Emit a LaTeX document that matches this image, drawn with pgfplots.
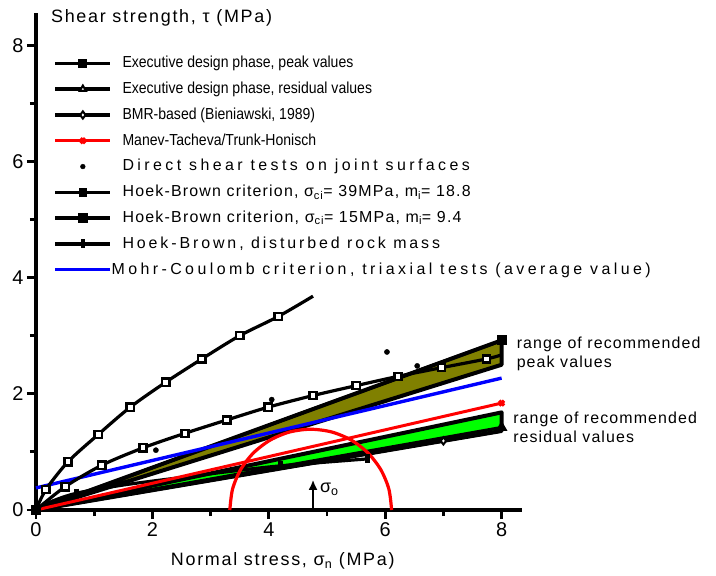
\documentclass[border=0pt]{standalone}
\usepackage{pgfplots}
\pgfplotsset{compat=1.18}
\usepackage{fontspec}
\setmainfont{Liberation Sans}
\newfontfamily\legfont[FakeStretch=0.88]{Liberation Sans}
\usetikzlibrary{arrows.meta}
\definecolor{bandolive}{RGB}{128,128,0}
\definecolor{bandgreen}{RGB}{0,255,0}
\newcommand{\ls}[2]{{\addfontfeature{LetterSpace=#1}#2}}
\begin{document}
\begin{tikzpicture}
\path[use as bounding box] (-36bp,-66bp) rectangle (680bp,510bp);
\begin{axis}[
  at={(0,0)}, anchor=origin,
  x=58.2bp, y=58.1bp,
  xmin=0, xmax=8.35, ymin=0, ymax=8.55,
  axis x line=bottom, axis y line=left,
  axis line style={-, line width=3bp},
  xtick={0,2,4,6,8}, ytick={0,2,4,6,8},
  minor xtick={1,3,5,7}, minor ytick={1,3,5,7},
  tick align=outside,
  major tick length=9bp, minor tick length=6bp,
  every tick/.style={line width=2.8bp, black},
  tick label style={font=\fontsize{20}{22}\selectfont},
  /pgf/number format/assume math mode=true,
  clip=false,
  legend style={at={(axis cs:0.30,7.85)}, anchor=north west, draw=none, fill=none,
    font=\fontsize{16}{18}\selectfont, row sep=7.3bp, column sep=9bp, inner sep=0pt,
    nodes={inner sep=1.5bp, text height=12bp, text depth=3.5bp},
    cells={anchor=west}},
  legend image code/.code={\draw[mark repeat=2,mark phase=2,#1] plot coordinates {(0bp,0bp) (27.5bp,0bp) (55bp,0bp)};},
]
% legend entries
\addlegendimage{black, line width=3.4bp, mark=square*, mark size=2.8bp}
\addlegendentry{\legfont Executive design phase, peak values}
\addlegendimage{black, line width=3.4bp, mark=triangle*, mark size=3.6bp, mark options={fill=white, line width=2bp}}
\addlegendentry{\legfont Executive design phase, residual values}
\addlegendimage{black, line width=3.4bp, mark=diamond*, mark size=3.6bp, mark options={fill=white, line width=2bp}}
\addlegendentry{\legfont BMR-based (Bieniawski, 1989)}
\addlegendimage{red, line width=3.4bp, mark=x, mark size=3.4bp, mark options={line width=3.4bp}}
\addlegendentry{\legfont Manev-Tacheva/Trunk-Honisch}
\addlegendimage{legend image code/.code={\draw[black] plot[only marks, mark=*, mark size=2.4bp] coordinates {(27.5bp,0bp)};}}
\addlegendentry{\ls{21.5}{Direct shear tests on joint surfaces}}
\addlegendimage{black, line width=3.4bp, mark=square*, mark size=2.6bp}
\addlegendentry{\ls{7.5}{Hoek-Brown criterion, σ\textsubscript{ci}= 39MPa, m\textsubscript{i}= 18.8}}
\addlegendimage{black, line width=3.4bp, mark=square*, mark size=3bp}
\addlegendentry{\ls{7.7}{Hoek-Brown criterion, σ\textsubscript{ci}= 15MPa, m\textsubscript{i}= 9.4}}
\addlegendimage{black, line width=3.4bp, mark=|, mark size=4.5bp, mark options={line width=4.5bp}}
\addlegendentry{\ls{18.2}{Hoek-Brown, disturbed rock mass}}
\addlegendimage{blue, line width=3.4bp}
\addlegendentry{\hspace*{-11bp}\ls{21.5}{Mohr-Coulomb criterion, triaxial tests (average value)}}

% olive band (recommended peak)
\addplot[forget plot, fill=bandolive, draw=black, line width=4bp, line join=round]
  coordinates {(0,0) (8,2.92) (8,2.5) (0,0)} -- cycle;
% green band (recommended residual)
\addplot[forget plot, fill=bandgreen, draw=black, line width=4bp, line join=round]
  coordinates {(0,0) (8,1.68) (8,1.36) (0,0)} -- cycle;
% executive peak marker
\addplot[forget plot, black, line width=3.2bp, mark=square*, mark size=3.4bp, mark indices={2}]
  coordinates {(0,0) (8,2.92)};
% executive residual
\addplot[forget plot, black, line width=3.2bp, mark=triangle*, mark size=3.6bp, mark indices={2}]
  coordinates {(0,0) (8,1.42)};
% BMR based
\addplot[forget plot, black, line width=3.2bp, mark=diamond*, mark size=3.6bp, mark indices={2}, mark options={fill=white, line width=2bp}]
  coordinates {(0,0) (7,1.19) (8,1.36)};
% Hoek-Brown disturbed
\addplot[forget plot, black, line width=3.2bp, smooth]
  coordinates {(0,0) (0.25,0.14) (0.7,0.29) (1.5,0.43) (2.5,0.56) (3.3,0.66) (4.2,0.76) (5.7,0.88)};
\addplot[forget plot, black, only marks, mark=|, mark size=4.5bp, mark options={line width=4.5bp}]
  coordinates {(0.7,0.29) (4.2,0.76) (5.7,0.88)};
% Mohr-Coulomb (blue)
\addplot[forget plot, blue, line width=3.4bp] coordinates {(0,0.38) (8,2.27)};
% Manev-Tacheva (red)
\addplot[forget plot, red, line width=3bp, mark=x, mark size=3.4bp, mark indices={2}, mark options={line width=3.4bp}]
  coordinates {(0,0) (8,1.84)};
% Mohr circle
\addplot[forget plot, red, line width=3.2bp, smooth]
  coordinates {(6.11,0) (6.063,0.360) (5.924,0.695) (5.703,0.983) (5.415,1.204) (5.080,1.343) (4.72,1.39)
               (4.360,1.343) (4.025,1.204) (3.737,0.983) (3.516,0.695) (3.377,0.360) (3.33,0)};
% Hoek-Brown sigma_ci = 39
\addplot[forget plot, black, line width=3.2bp, smooth]
  coordinates {(0,0) (0.17,0.35) (0.55,0.83) (1.07,1.3) (1.62,1.77) (2.23,2.2) (2.85,2.6) (3.5,3.0) (4.16,3.33) (4.76,3.68)};
\addplot[forget plot, black, only marks, mark=square*, mark size=3.6bp, mark options={fill=white, line width=2.4bp}]
  coordinates {(0.17,0.35) (0.55,0.83) (1.07,1.3) (1.62,1.77) (2.23,2.2) (2.85,2.6) (3.5,3.0) (4.16,3.33)};
% Hoek-Brown sigma_ci = 15
\addplot[forget plot, black, line width=3.2bp, smooth]
  coordinates {(0,0) (0.5,0.4) (1.13,0.77) (1.84,1.07) (2.56,1.32) (3.28,1.55) (3.99,1.77) (4.76,1.97) (5.5,2.14) (6.22,2.3) (6.97,2.45) (7.74,2.6) (8,2.67)};
\addplot[forget plot, black, only marks, mark=square*, mark size=3.6bp, mark options={fill=white, line width=2.4bp}]
  coordinates {(0.5,0.4) (1.13,0.77) (1.84,1.07) (2.56,1.32) (3.28,1.55) (3.99,1.77) (4.76,1.97) (5.5,2.14) (6.22,2.3) (6.97,2.45) (7.74,2.6)};
% markers piled at the origin
\addplot[forget plot, black, only marks, mark=square*, mark size=4.5bp]
  coordinates {(0,0)};
% direct shear tests
\addplot[forget plot, black, only marks, mark=*, mark size=2.6bp]
  coordinates {(2.06,1.03) (4.05,1.9) (6.03,2.72) (6.55,2.48)};
% sigma_o arrow
\addplot[forget plot, black, line width=2.8bp, -{Latex[length=10bp,width=9bp]}]
  coordinates {(4.76,0) (4.76,0.52)};

% texts
\node[anchor=west, font=\fontsize{18}{20}\selectfont] at (axis cs:4.82,0.36) {σ\textsubscript{o}};
\node[anchor=west, font=\fontsize{18}{20}\selectfont] at (axis cs:0.2,8.47) {\ls{9.5}{Shear strength, τ (MPa)}};
\node[font=\fontsize{18}{20}\selectfont] at (axis cs:4.24,-0.88) {\ls{9.5}{Normal stress, σ\textsubscript{n} (MPa)}};
\node[anchor=west, align=left, font=\fontsize{16}{19}\selectfont] at (axis cs:8.2,2.68) {\ls{7}{range of recommended}\\\ls{7}{peak values}};
\node[anchor=west, align=left, font=\fontsize{16}{19}\selectfont] at (axis cs:8.14,1.43) {\ls{7}{range of recommended}\\\ls{7}{residual values}};
\end{axis}
\end{tikzpicture}
\end{document}
